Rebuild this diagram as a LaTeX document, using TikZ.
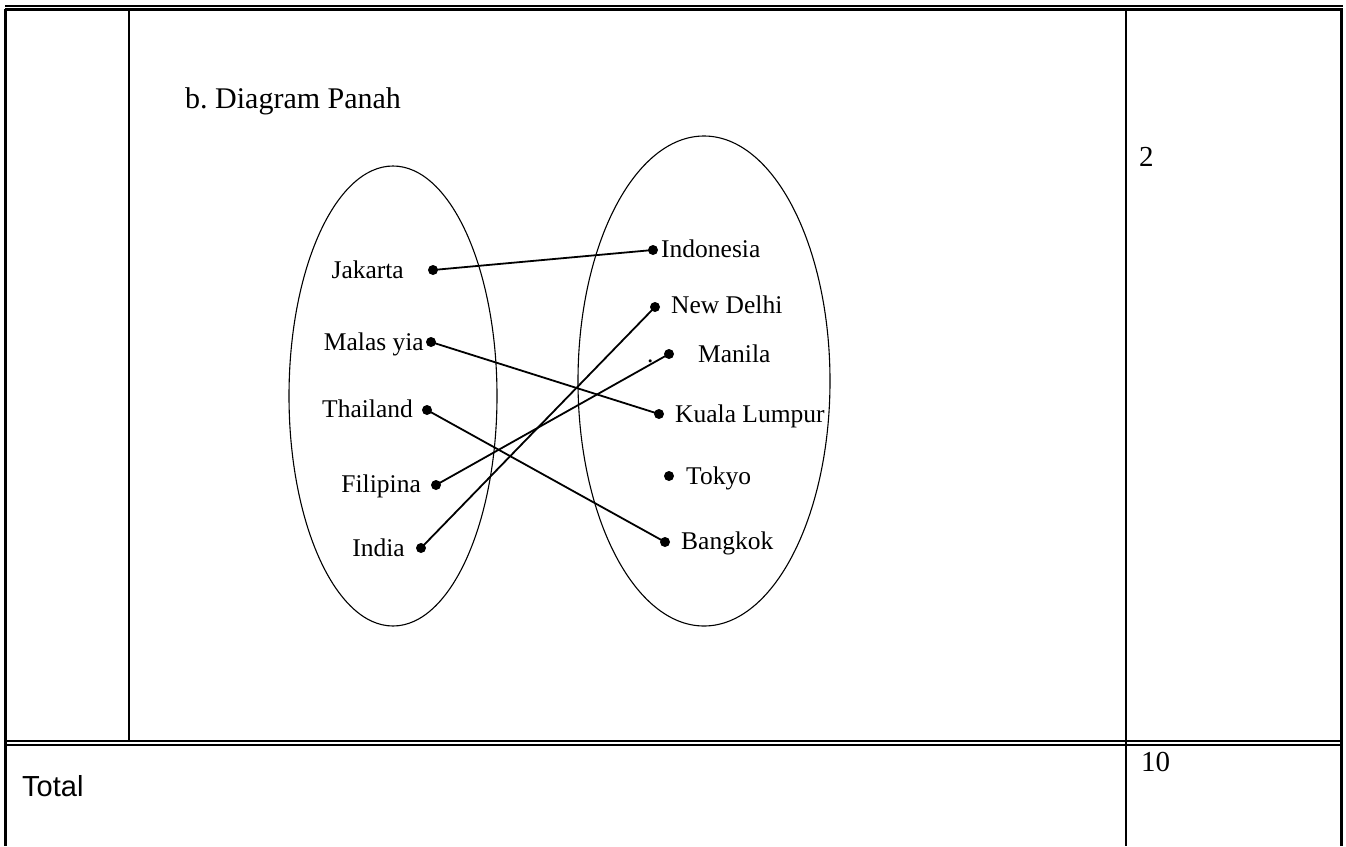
\documentclass[tikz,border=0pt]{standalone}
\usepackage{fontspec}
\setmainfont{Liberation Serif}
\newfontfamily\arialfont{Liberation Sans}
\frenchspacing
\begin{document}
\begin{tikzpicture}[x=1pt,y=-1pt,
  tbl/.style={line width=2.2pt},
  tblthick/.style={line width=3pt},
  lbl/.style={inner sep=0pt,font=\fontsize{25.5}{30}\selectfont},
  dotnode/.style={circle,fill=black,inner sep=0pt,minimum size=10pt},
  conn/.style={line width=1.8pt},
  setline/.style={line width=1.1pt}]
\useasboundingbox (0,0) rectangle (1346,846);
% table frame
\draw[line width=2pt] (5,6) -- (1343,6);
\draw[tbl] (5,9.5) -- (1343,9.5);
\draw[tblthick] (5.5,9) -- (5.5,846);
\draw[tblthick] (1341,9) -- (1341,846);
\draw[line width=2pt] (129,10) -- (129,741);
\draw[line width=2pt] (1126,10) -- (1126,846);
\draw[line width=2pt] (5,741) -- (1343,741);
\draw[line width=2pt] (5,745) -- (1343,745);
% texts in cells
\node[inner sep=0pt,anchor=base west,font=\fontsize{30}{36}\selectfont] (title) at (185,108) {b. Diagram Panah};
\node[inner sep=0pt,anchor=base west,font=\fontsize{29}{34}\selectfont] (two) at (1139,166) {2};
\node[inner sep=0pt,anchor=base west,font=\fontsize{29}{34}\selectfont] (ten) at (1141,771) {10};
\node[inner sep=0pt,anchor=base west,font=\arialfont\fontsize{29}{34}\selectfont] (total) at (22,796) {Total};
% sets
\draw[setline] (393,396) ellipse [x radius=104, y radius=230];
\draw[setline] (704,381) ellipse [x radius=126, y radius=245];
% left dots
\node[dotnode] (djak) at (433,270) {};
\node[dotnode] (dmal) at (431,342) {};
\node[dotnode] (dtha) at (427,410) {};
\node[dotnode] (dfil) at (436,485) {};
\node[dotnode] (dind) at (421,548) {};
% right dots
\node[dotnode] (dina) at (653,250) {};
\node[dotnode] (dndl) at (655,307) {};
\node[dotnode] (dmnl) at (669,354) {};
\node[dotnode] (dkl) at (659,414) {};
\node[dotnode] (dtky) at (669,476) {};
\node[dotnode] (dbkk) at (665,542) {};
% left labels
\node[lbl,anchor=base east] (ljak) at (404,278) {Jakarta};
\node[lbl,anchor=base east] (lmal) at (424,350) {Malas yia};
\node[lbl,anchor=base east] (ltha) at (413,417) {Thailand};
\node[lbl,anchor=base east] (lfil) at (421,492) {Filipina};
\node[lbl,anchor=base east] (lind) at (405,556) {India};
% right labels
\node[lbl,anchor=base west] (lina) at (661,257) {Indonesia};
\node[lbl,anchor=base west] (lndl) at (671,313) {New Delhi};
\node[lbl,anchor=base west] (lstop) at (647,362) {.};
\node[lbl,anchor=base west] (lmnl) at (698,362) {Manila};
\node[lbl,anchor=base west] (lkl) at (675,422) {Kuala Lumpur};
\node[lbl,anchor=base west] (ltky) at (686,484) {Tokyo};
\node[lbl,anchor=base west] (lbkk) at (681,549) {Bangkok};
% connectors
\draw[conn] (djak.center) -- (dina.center);
\draw[conn] (dmal.center) -- (dkl.center);
\draw[conn] (dtha.center) -- (dbkk.center);
\draw[conn] (dfil.center) -- (dmnl.center);
\draw[conn] (dind.center) -- (dndl.center);
\end{tikzpicture}
\end{document}
